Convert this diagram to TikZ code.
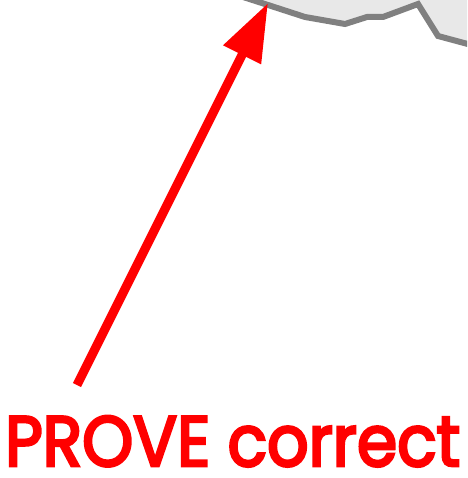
\documentclass[tikz,border=0pt]{standalone}
\usepackage{fontspec}
\newfontfamily\handfont[FakeBold=4]{Poppins}
\usetikzlibrary{arrows.meta}
\definecolor{blobfill}{HTML}{E8E8E8}
\definecolor{blobline}{HTML}{808080}
\tikzset{
	blob/.style={fill=blobfill, draw=blobline, line width=6pt, line join=miter},
	pointer/.style={draw=red, line width=9pt, -{Triangle[length=58pt,width=40pt]}},
	label/.style={text=red, inner sep=0pt, anchor=base west, font=\handfont}
}
\begin{document}
\begin{tikzpicture}[x=1pt, y=-1pt]
	\useasboundingbox (0,0) rectangle (467,478);
	\begin{scope}
		\clip (0,0) rectangle (467,478);
		\draw[blob] (240,-4) -- (268,5) -- (305,17) -- (345,24) -- (367,17) -- (383,17)
			-- (418,4) -- (438,36) -- (490,50) -- (490,-30) -- (240,-30) -- cycle;
	\end{scope}
	\coordinate (tail) at (77,385);
	\coordinate (tip) at (268,3);
	\draw[pointer] (tail) -- (tip);
	\node[label] (claim) at (5,466) {\resizebox{455pt}{50pt}{PROVE correct}};
\end{tikzpicture}
\end{document}
